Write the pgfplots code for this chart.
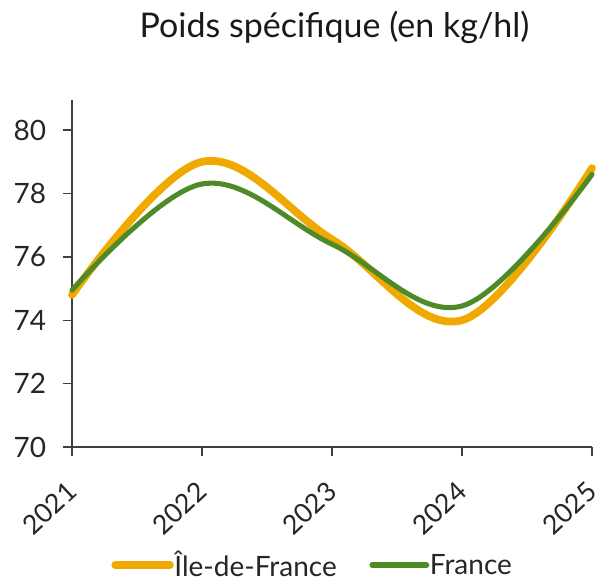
\documentclass[border=0pt]{standalone}
\usepackage{fontspec}
\setmainfont{Lato}
\usepackage{pgfplots}
\pgfplotsset{compat=1.18}
\definecolor{idf}{HTML}{EFA900}
\definecolor{fra}{HTML}{4E8A27}
\definecolor{axgray}{HTML}{404040}
\begin{document}
\begin{tikzpicture}[x=0.75pt,y=0.75pt]
\useasboundingbox (0,0) rectangle (599,581);
\node[anchor=base,font=\fontsize{25.5}{30}\selectfont,text=black!90] at (334.5,543) {Poids spécifique (en kg/hl)};
\begin{axis}[
  at={(54pt,100.5pt)}, anchor=south west,
  scale only axis, width=390pt, height=260.25pt,
  xmin=2021, xmax=2025, ymin=70, ymax=80.95,
  axis x line*=bottom, axis y line*=left,
  axis line style={-, axgray, line width=1.1pt},
  every tick/.style={axgray, line width=1.1pt},
  tick align=outside,
  xtick={2021,2022,2023,2024,2025},
  xticklabels={2021,2022,2023,2024,2025},
  ytick={70,72,74,76,78,80},
  major tick length=7pt,
  /pgf/number format/assume math mode=true,
  /pgf/number format/1000 sep={},
  tick label style={font=\fontsize{21}{24}\selectfont, text=black!85},
  yticklabel style={anchor=east, xshift=-9pt},
  xticklabel style={font=\fontsize{20}{24}\selectfont, xshift=-5pt, yshift=-16pt, rotate=43, anchor=north east, inner sep=1pt},
  legend style={at={(0.4615,-0.34)}, anchor=center, draw=none, fill=none,
    legend columns=2, font=\fontsize{21}{24}\selectfont,
    /tikz/every even column/.append style={column sep=24pt},
    nodes={inner sep=0.5pt, text=black!85}},
  legend image code/.code={\draw[#1] (0pt,0pt) -- (41pt,0pt);},
  clip=false,
]
\addplot[idf, line width=5.8pt, smooth, tension=0.6, line cap=round] coordinates {
  (2021,74.8) (2022,79.0) (2023,76.55) (2024,74.0) (2025,78.8)};
\addlegendentry{Île-de-France}
\addplot[fra, line width=3.8pt, smooth, tension=0.6, line cap=round] coordinates {
  (2021,74.95) (2022,78.3) (2023,76.4) (2024,74.45) (2025,78.6)};
\addlegendentry{France}
\end{axis}
\end{tikzpicture}
\end{document}
